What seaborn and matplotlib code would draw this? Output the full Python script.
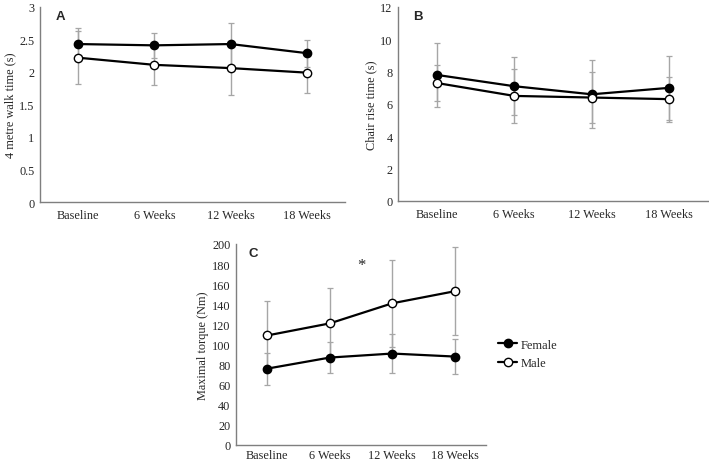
import matplotlib
matplotlib.use("Agg")
import matplotlib.pyplot as plt
import seaborn as sns
import pandas as pd
import numpy as np
from matplotlib.lines import Line2D

timepoints = ["Baseline", "6 Weeks", "12 Weeks", "18 Weeks"]
groups = ["Female", "Male"]

walk_female = [2.43, 2.41, 2.43, 2.29]
walk_female_sd = [0.25, 0.19, 0.33, 0.21]
walk_male = [2.22, 2.11, 2.06, 1.99]
walk_male_sd = [0.41, 0.31, 0.41, 0.32]

chair_female = [7.8, 7.1, 6.6, 7.0]
chair_female_sd = [2.0, 1.8, 2.1, 2.0]
chair_male = [7.3, 6.5, 6.4, 6.3]
chair_male_sd = [1.1, 1.65, 1.6, 1.4]

torque_female = [76, 87, 91, 88]
torque_female_sd = [16, 15, 19, 17]
torque_male = [109, 121, 141, 153]
torque_male_sd = [34, 35, 43, 44]

sns.set_theme(style="white")
plt.rcParams["font.family"] = ["Liberation Serif", "DejaVu Serif"]

fig = plt.figure(figsize=(7.09, 4.64), dpi=100)
W, H = 709, 464

def make_ax(left, top, right, bottom):
    return fig.add_axes([left / W, 1 - bottom / H, (right - left) / W, (bottom - top) / H])

axA = make_ax(40, 8, 345, 203)
axB = make_ax(398, 8, 708, 202)
axC = make_ax(236, 245, 486, 446)

panels = [
    (axA, walk_female, walk_female_sd, walk_male, walk_male_sd, (0, 3), 0.5, "4 metre walk time (s)", "A", 5),
    (axB, chair_female, chair_female_sd, chair_male, chair_male_sd, (0, 12), 2, "Chair rise time (s)", "B", 5),
    (axC, torque_female, torque_female_sd, torque_male, torque_male_sd, (0, 200), 20, "Maximal torque (Nm)", "C", 3),
]

MS = 6
LW = 1.6

for ax, fv, fsd, mv, msd, ylim, step, ylabel, letter, xpad in panels:
    df = pd.DataFrame({
        "x": list(range(len(timepoints))) * 2,
        "value": fv + mv,
        "sd": fsd + msd,
        "group": ["Female"] * len(fv) + ["Male"] * len(mv),
    })
    for g in groups:
        sub = df[df.group == g]
        ax.errorbar(sub.x, sub.value, yerr=sub.sd, fmt="none", ecolor="#a6a6a6",
                    elinewidth=1.0, capsize=2.5, capthick=0.9, zorder=1)
    sns.lineplot(data=df, x="x", y="value", hue="group", hue_order=groups,
                 palette={"Female": "black", "Male": "black"}, marker="o",
                 markersize=MS, linewidth=LW, markeredgecolor="black",
                 markeredgewidth=1.0, ax=ax, legend=False, zorder=3)
    lines = ax.get_lines()
    lines[-2].set_markerfacecolor("black")
    lines[-1].set_markerfacecolor("white")
    ax.set_xlim(-0.5, len(timepoints) - 0.5)
    ax.set_ylim(*ylim)
    yt = np.arange(ylim[0], ylim[1] + step / 2, step)
    ax.set_yticks(yt)
    ax.set_yticklabels([f"{v:g}" for v in yt])
    ax.set_xticks(range(len(timepoints)))
    ax.set_xticklabels(timepoints)
    ax.set_xlabel("")
    ax.set_ylabel(ylabel, fontsize=8.8, labelpad=2)
    ax.tick_params(axis="y", labelsize=8.8, length=0, pad=4)
    ax.tick_params(axis="x", labelsize=8.8, length=0, pad=xpad)
    for s in ["top", "right"]:
        ax.spines[s].set_visible(False)
    for s in ["left", "bottom"]:
        ax.spines[s].set_color("#7f7f7f")
        ax.spines[s].set_linewidth(1.0)
    ax.text(0.05, 0.985, letter, transform=ax.transAxes, ha="left", va="top",
            fontsize=9.5, fontweight="bold", family=["Liberation Sans", "DejaVu Sans"])

axC.text(1.5, 171, "*", ha="center", va="bottom", fontsize=12)

handles = [
    Line2D([], [], color="black", lw=LW, marker="o", markersize=MS,
           markerfacecolor="black", markeredgecolor="black"),
    Line2D([], [], color="black", lw=LW, marker="o", markersize=MS,
           markerfacecolor="white", markeredgecolor="black"),
]
fig.legend(handles, groups, loc="center left", bbox_to_anchor=(492 / W, 1 - 355 / H),
           frameon=False, fontsize=9, handlelength=1.5, handletextpad=0.3,
           labelspacing=0.55, borderpad=0)

fig.savefig("out.png", dpi=100)
